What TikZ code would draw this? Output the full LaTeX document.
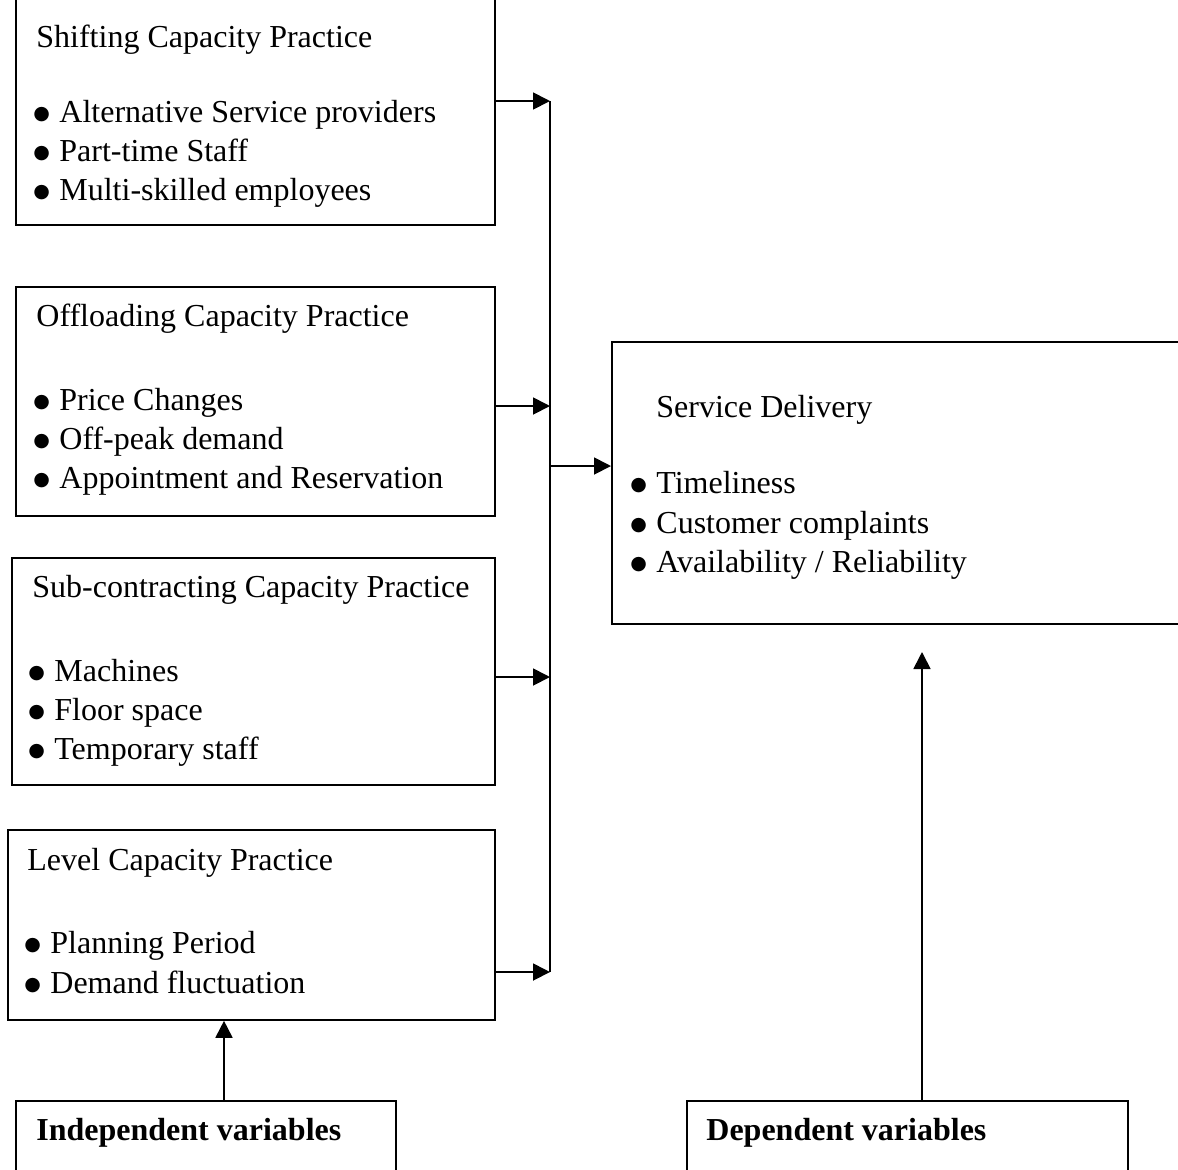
\documentclass[tikz,border=0pt]{standalone}
\usepackage{fontspec}
\setmainfont{Liberation Serif}
\newfontfamily\dejavu{DejaVu Sans}
\newcommand\bul{\makebox[11.5pt][l]{\hspace{-1.5pt}\raisebox{1.3pt}{\dejavu\fontsize{9.5}{10}\selectfont ●}}}
\usetikzlibrary{arrows.meta}
\begin{document}
\begin{tikzpicture}[x=0.5pt,y=-0.5pt,
  box/.style={draw, line width=0.9pt, anchor=north west, inner sep=0pt},
  txt/.style={anchor=base west, inner sep=0pt, font=\fontsize{16}{19}\selectfont},
  btxt/.style={txt, font=\fontsize{16}{19}\selectfont\bfseries},
  arr/.style={line width=0.9pt, -{Triangle[length=8.5pt,width=8.5pt]}},
  bus/.style={line width=0.9pt}]
\useasboundingbox (0,0) rectangle (1178,1169);
\clip (0,0) rectangle (1178,1169);
% boxes
\node[box, minimum width=239.5pt, minimum height=117pt] (b1) at (15,-10) {};
\node[box, minimum width=239.5pt, minimum height=114.5pt] (b2) at (15,286) {};
\node[box, minimum width=241.5pt, minimum height=113.5pt] (b3) at (11,557) {};
\node[box, minimum width=243.5pt, minimum height=95pt] (b4) at (7,829) {};
\node[box, minimum width=295pt, minimum height=141pt] (sd) at (611,341) {};
\node[box, minimum width=190pt, minimum height=50pt] (ind) at (15,1100) {};
\node[box, minimum width=220.5pt, minimum height=50pt] (dep) at (686,1100) {};
% texts
\node[txt] (t1) at (36,47) {Shifting Capacity Practice};
\node[txt] (t1a) at (36,122) {\bul Alternative Service providers};
\node[txt] (t1b) at (36,161) {\bul Part-time Staff};
\node[txt] (t1c) at (36,200) {\bul Multi-skilled employees};
\node[txt] (t2) at (36,326) {Offloading Capacity Practice};
\node[txt] (t2a) at (36,410) {\bul Price Changes};
\node[txt] (t2b) at (36,449) {\bul Off-peak demand};
\node[txt] (t2c) at (36,488) {\bul Appointment and Reservation};
\node[txt] (t3) at (32,597) {Sub-contracting Capacity Practice};
\node[txt] (t3a) at (31,681) {\bul Machines};
\node[txt] (t3b) at (31,720) {\bul Floor space};
\node[txt] (t3c) at (31,759) {\bul Temporary staff};
\node[txt] (t4) at (27,870) {Level Capacity Practice};
\node[txt] (t4a) at (27,953) {\bul Planning Period};
\node[txt] (t4b) at (27,993) {\bul Demand fluctuation};
\node[txt] (t5) at (656,417) {Service Delivery};
\node[txt] (t5a) at (633,493) {\bul Timeliness};
\node[txt] (t5b) at (633,533) {\bul Customer complaints};
\node[txt] (t5c) at (633,572) {\bul Availability / Reliability};
\node[btxt] (t6) at (36,1140) {Independent variables};
\node[btxt] (t7) at (706,1140) {Dependent variables};
% connectors
\coordinate (j1) at (550,101);
\coordinate (j2) at (550,406);
\coordinate (j3) at (550,677);
\coordinate (j4) at (550,972);
\coordinate (jm) at (550,466);
\coordinate (xa) at (224,0);
\coordinate (xb) at (922,0);
\draw[bus] (j1) -- (j4);
\draw[arr] (b1.east |- j1) -- (j1);
\draw[arr] (b2.east |- j2) -- (j2);
\draw[arr] (b3.east |- j3) -- (j3);
\draw[arr] (b4.east |- j4) -- (j4);
\draw[arr] (jm) -- (sd.west |- jm);
\draw[arr] (ind.north -| xa) -- (b4.south -| xa);
\draw[arr] (dep.north -| xb) -- (922,652);
\end{tikzpicture}
\end{document}
